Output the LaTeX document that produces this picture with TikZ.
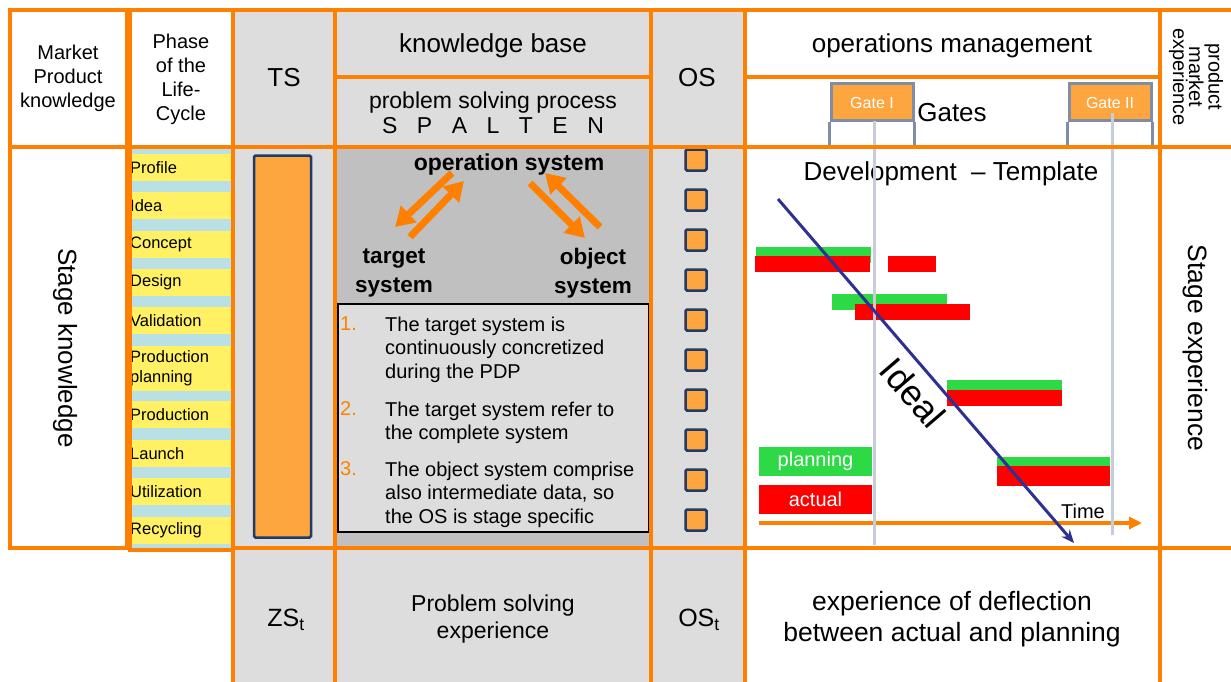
\documentclass[tikz,border=0pt]{standalone}
\usepackage{fontspec}
\setmainfont{Liberation Sans}
\usetikzlibrary{arrows.meta}

\definecolor{gridorange}{HTML}{FF8000}
\definecolor{boxorange}{HTML}{FDA53F}
\definecolor{paleGray}{HTML}{DDDDDD}
\definecolor{midGray}{HTML}{C0C0C0}
\definecolor{phaseYellow}{HTML}{FFF163}
\definecolor{phaseBlue}{HTML}{B9E0E4}
\definecolor{navyEdge}{HTML}{1F3B66}
\definecolor{gateEdge}{HTML}{7F8DA6}
\definecolor{gateLine}{HTML}{C6CCD8}
\definecolor{planGreen}{HTML}{2DD944}
\definecolor{actualRed}{HTML}{FF0000}
\definecolor{idealBlue}{HTML}{2E3192}

\newcommand{\sz}[2]{\fontsize{#1}{#2}\selectfont}

\tikzset{
  gridline/.style={draw=gridorange, line width=3.5pt},
  txt/.style={inner sep=0pt, align=center},
  phasebar/.style={fill=phaseYellow, minimum width=102pt, minimum height=27pt,
    text width=100pt, inner xsep=1pt, inner ysep=0pt, align=left, anchor=west,
    font=\sz{16.5}{20}},
  osbox/.style={draw=navyEdge, fill=boxorange, line width=2.5pt,
    rounded corners=1.5pt, minimum size=21pt, inner sep=0pt},
  gatebox/.style={draw=gateEdge, fill=boxorange, line width=3pt,
    minimum width=82pt, minimum height=37pt, inner sep=0pt, text=white,
    font=\sz{16}{19}},
  gateleg/.style={draw=gateEdge, line width=3pt},
  gatemark/.style={draw=gateLine, line width=3pt},
  blockarrow/.style={draw=gridorange, line width=7pt,
    -{Triangle[length=19pt, width=22pt]}},
  planbar/.style={fill=planGreen},
  actbar/.style={fill=actualRed},
  legendbox/.style={minimum width=113pt, minimum height=29pt, inner sep=0pt,
    text=white, font=\sz{20}{24}},
  notenum/.style={inner sep=0pt, anchor=north west, text=gridorange,
    font=\sz{20}{23.5}},
  notetext/.style={inner sep=0pt, anchor=north west, align=left,
    font=\sz{20}{23.5}},
  boldlabel/.style={inner sep=0pt, align=center, font=\sz{22.5}{29}\bfseries},
}

\begin{document}
\begin{tikzpicture}[x=1pt, y=-1pt]
\useasboundingbox (0,0) rectangle (1231,682);

% ---------- column backgrounds ----------
\fill[paleGray] (233,10) rectangle (335,682);
\fill[paleGray] (335,10) rectangle (651,147);
\fill[midGray]  (335,147) rectangle (651,548);
\fill[paleGray] (335,548) rectangle (651,682);
\fill[paleGray] (651,10) rectangle (745,682);
\fill[phaseBlue] (129,147) rectangle (232,548);

% ---------- life-cycle phases ----------
\foreach \yc/\nm/\lbl in {167.5/phA/Profile, 205.5/phB/Idea, 244.5/phC/Concept,
    282.5/phD/Design, 320.5/phE/Validation, 414.5/phG/Production,
    453.5/phH/Launch, 491.5/phI/Utilization, 530.5/phJ/Recycling}
  \node[phasebar] (\nm) at (129,\yc) {\lbl};
\node[phasebar, minimum height=45pt] (phF) at (129,368.5) {Production\\planning};

% ---------- target system bar ----------
\node[draw=navyEdge, line width=2.5pt, fill=boxorange, rounded corners=1.5pt,
  minimum width=57pt, minimum height=382pt, inner sep=0pt] (tsbar) at (282.5,346.5) {};

% ---------- object system stages ----------
\foreach \i in {0,...,9}
  \node[osbox] (os\i) at (696,{160+40*\i}) {};

% ---------- problem solving core ----------
\node[boldlabel, font=\sz{23}{28}\bfseries] (opsys) at (509,165) {operation system};
\node[boldlabel] (tgsys) at (394,273) {target\\system};
\node[boldlabel] (objsys) at (593,273) {object\\system};

\coordinate (arAs) at (452,173); \coordinate (arAe) at (395,227);
\coordinate (arBs) at (410,237); \coordinate (arBe) at (464,181);
\coordinate (arCs) at (530,183); \coordinate (arCe) at (585,238);
\coordinate (arDs) at (600,227); \coordinate (arDe) at (545,173);
\draw[blockarrow] (arAs) -- (arAe);
\draw[blockarrow] (arBs) -- (arBe);
\draw[blockarrow] (arCs) -- (arCe);
\draw[blockarrow] (arDs) -- (arDe);

\node[draw=black, line width=2pt, fill=paleGray, minimum width=311pt,
  minimum height=228pt, inner sep=0pt] (notes) at (493.5,418) {};
\node[notenum] (numA) at (340,316.5) {1.};
\node[notetext] (itemA) at (385,316.5) {The target system is\\continuously concretized\\during the PDP};
\node[notenum] (numB) at (340,401.5) {2.};
\node[notetext] (itemB) at (385,401.5) {The target system refer to\\the complete system};
\node[notenum] (numC) at (340,461.5) {3.};
\node[notetext] (itemC) at (385,461.5) {The object system comprise\\also intermediate data, so\\the OS is stage specific};

% ---------- development template chart ----------
\node[txt, font=\sz{26}{30}] (devtpl) at (951,174) {Development~~-- Template};

\fill[planbar] (756,247) rectangle (871,263);
\fill[actbar]  (755,256) rectangle (870,272);
\fill[actbar]  (888,256) rectangle (936,272);
\fill[planbar] (832,294) rectangle (947,310);
\fill[actbar]  (855,304) rectangle (970,320);
\fill[planbar] (947,380) rectangle (1062,392);
\fill[actbar]  (947,390) rectangle (1062,406);
\fill[planbar] (997,457) rectangle (1110,468);
\fill[actbar]  (997,466) rectangle (1110,486);

\node[legendbox, fill=planGreen] (planleg) at (815.5,461.5) {planning};
\node[legendbox, fill=actualRed] (actleg) at (815.5,499.5) {actual};

\coordinate (timeS) at (759,523);
\coordinate (timeE) at (1142,523);
\draw[draw=gridorange, line width=4pt, -{Triangle[length=13pt, width=12pt]}] (timeS) -- (timeE);
\node[txt, font=\sz{20}{24}] (timelbl) at (1083,511) {Time};

% gates
\node[gatebox] (gateA) at (872,102.5) {Gate I};
\node[gatebox] (gateB) at (1110,102.5) {Gate II};
\draw[gateleg] (gateA.south west) -- ++(0,24);
\draw[gateleg] (gateA.south east) -- ++(0,24);
\draw[gateleg] (gateB.south west) -- ++(0,24);
\draw[gateleg] (gateB.south east) -- ++(0,24);
\node[txt, font=\sz{26}{30}] (gates) at (952,113) {Gates};

\coordinate (markAs) at (874,121);  \coordinate (markAe) at (874,545);
\coordinate (markBs) at (1112,113); \coordinate (markBe) at (1112,535);
\draw[gatemark] (markAs) -- (markAe);
\draw[gatemark] (markBs) -- (markBe);

\coordinate (idealS) at (778,199);
\coordinate (idealE) at (1074,543);
\draw[draw=idealBlue, line width=3pt, -{Stealth[length=13pt, width=11pt]}] (idealS) -- (idealE);
\node[txt, rotate=-49.3, font=\sz{36}{40}] (ideal) at (913,393) {Ideal};

% ---------- header and side texts ----------
\node[txt, font=\sz{20}{24}] (mpk) at (68,78) {Market\\Product\\knowledge};
\node[txt, font=\sz{20}{24}] (phase) at (181,79.5) {Phase\\of the\\Life-\\Cycle};
\node[txt, font=\sz{26}{30}] (ts) at (284,78) {TS};
\node[txt, font=\sz{26}{30}] (kb) at (493,46) {knowledge base};
\node[txt, font=\sz{23}{25}] (psp) at (493,112.5)
  {problem solving process\\S\hspace{19.5pt}P\hspace{19.5pt}A\hspace{19.5pt}L\hspace{19.5pt}T\hspace{19.5pt}E\hspace{19.5pt}N};
\node[txt, font=\sz{26}{30}] (os) at (697,78) {OS};
\node[txt, font=\sz{26}{30}] (opmgmt) at (952,46) {operations management};
\node[txt, rotate=-90, font=\sz{20}{16}] (pme) at (1196,77) {product\\market\\experience};

\node[txt, rotate=-90, font=\sz{26}{30}] (stknow) at (65,348) {Stage knowledge};
\node[txt, rotate=-90, font=\sz{26.5}{30}] (stexp) at (1195,348) {Stage experience};

% ---------- bottom row ----------
\node[txt, font=\sz{25}{30}] (zst) at (286,620) {ZS\textsubscript{t}};
\node[txt, font=\sz{23}{27}] (pse) at (493,619) {Problem solving\\experience};
\node[txt, font=\sz{25}{30}] (ost) at (699,620) {OS\textsubscript{t}};
\node[txt, font=\sz{26.5}{31}] (defl) at (952,619) {experience of deflection\\between actual and planning};

% ---------- orange grid ----------
\draw[gridline] (10,10) rectangle (127,548);
\draw[gridline] (10,147) -- (127,147);
\draw[gridline] (130,10) rectangle (233,550);
\draw[gridline] (130,147) -- (233,147);
\draw[gridline] (233,10) -- (1231,10);
\draw[gridline] (233,147) -- (1231,147);
\draw[gridline] (233,548) -- (1231,548);
\draw[gridline] (335,77) -- (651,77);
\draw[gridline] (745,77) -- (1160,77);
\foreach \x in {233,335,651,745,1160}
  \draw[gridline] (\x,10) -- (\x,682);
\end{tikzpicture}
\end{document}
